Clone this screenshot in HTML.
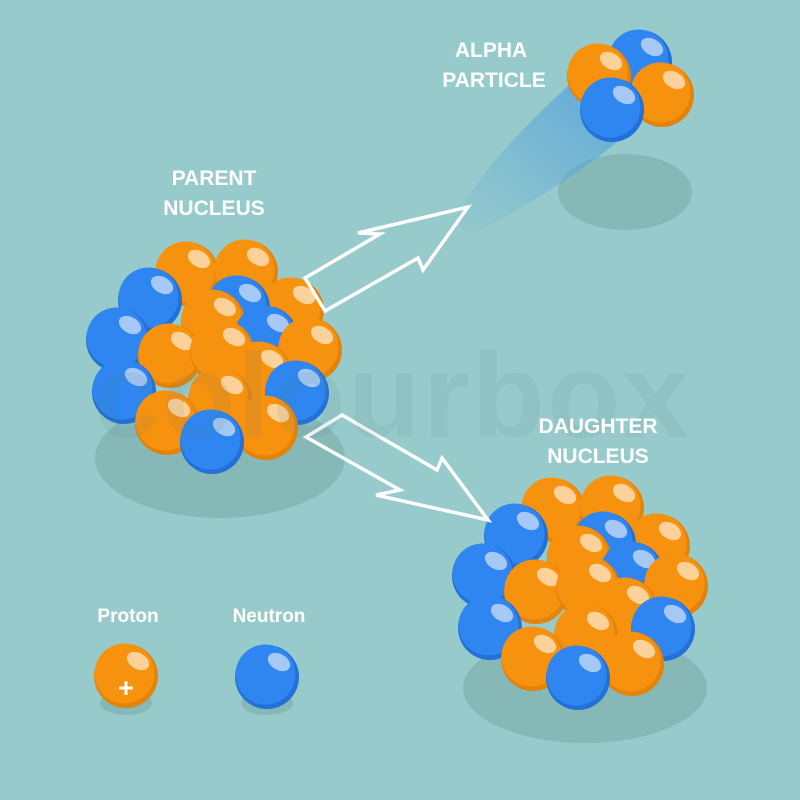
<!DOCTYPE html>
<html><head><meta charset="utf-8"><style>
html,body{margin:0;padding:0;background:#97cbcb;}
svg{display:block}
text{font-family:"Liberation Sans",sans-serif;font-weight:bold;fill:#fff}
</style></head><body>
<svg width="800" height="800" viewBox="0 0 800 800" xmlns="http://www.w3.org/2000/svg">
<defs>
<linearGradient id="trail" x1="0" y1="1" x2="1" y2="0">
<stop offset="0" stop-color="#5fa8dc" stop-opacity="0.05"/>
<stop offset="1" stop-color="#4a9be0" stop-opacity="0.75"/>
</linearGradient>
<g id="o">
<circle r="32" fill="#e4830a"/>
<circle cx="-1.5" cy="-2.5" r="30" fill="#f7920f"/>
<ellipse cx="12" cy="-15" rx="12" ry="8" transform="rotate(30 12 -15)" fill="#fdd19a"/>
</g>
<g id="b">
<circle r="32" fill="#2270d8"/>
<circle cx="-1.5" cy="-2.5" r="30" fill="#2f86f0"/>
<ellipse cx="12" cy="-15" rx="12" ry="8" transform="rotate(30 12 -15)" fill="#a5c8f5"/>
</g>
<g id="nuc">
<use href="#o" x="187" y="274"/>
<use href="#o" x="246" y="272"/>
<use href="#b" x="150" y="300"/>
<use href="#o" x="292" y="310"/>
<use href="#b" x="238" y="308"/>
<use href="#o" x="213" y="322"/>
<use href="#b" x="118" y="340"/>
<use href="#b" x="266" y="338"/>
<use href="#o" x="310" y="350"/>
<use href="#o" x="170" y="356"/>
<use href="#o" x="222" y="352"/>
<use href="#o" x="260" y="374"/>
<use href="#b" x="124" y="392"/>
<use href="#o" x="220" y="400"/>
<use href="#b" x="297" y="393"/>
<use href="#o" x="167" y="423"/>
<use href="#o" x="266" y="428"/>
<use href="#b" x="212" y="442"/>
</g>
</defs>

<ellipse cx="220" cy="458" rx="125" ry="60" fill="#86b8b8"/>
<ellipse cx="585" cy="688" rx="122" ry="55" fill="#86b8b8"/>
<ellipse cx="625" cy="192" rx="67" ry="38" fill="#86b8b8"/>
<ellipse cx="126" cy="703" rx="26" ry="12" fill="#86b8b8"/>
<ellipse cx="267" cy="703" rx="26" ry="12" fill="#86b8b8"/>

<path d="M456,222 C472,180 520,130 568,86 L626,134 C580,175 520,210 468,236 Z" fill="url(#trail)"/>

<use href="#nuc"/>
<use href="#nuc" x="366" y="236"/>

<use href="#b" x="640" y="62"/>
<use href="#o" x="599" y="76"/>
<use href="#o" x="662" y="95"/>
<use href="#b" x="612" y="110"/>

<polygon points="305,278 380,234 358,233 468,207 423,270 418,258 325,311" fill="none" stroke="#fff" stroke-width="3.5" stroke-linejoin="miter"/>
<polygon points="342,415 437,470 442,458 488,520 376,495 400,490 306,437" fill="none" stroke="#fff" stroke-width="3.5" stroke-linejoin="miter"/>

<text x="392" y="437" text-anchor="middle" font-size="120" style="fill:#5a7d86;opacity:0.1;letter-spacing:2px">colourbox</text>

<use href="#o" x="126" y="676"/>
<text x="126" y="697" text-anchor="middle" font-size="27">+</text>
<use href="#b" x="267" y="677"/>

<text x="491" y="57" text-anchor="middle" font-size="21">ALPHA</text>
<text x="494" y="87" text-anchor="middle" font-size="21">PARTICLE</text>
<text x="214" y="185" text-anchor="middle" font-size="21">PARENT</text>
<text x="214" y="215" text-anchor="middle" font-size="21">NUCLEUS</text>
<text x="598" y="433" text-anchor="middle" font-size="21">DAUGHTER</text>
<text x="598" y="463" text-anchor="middle" font-size="21">NUCLEUS</text>
<text x="128" y="622" text-anchor="middle" font-size="19">Proton</text>
<text x="269" y="622" text-anchor="middle" font-size="19">Neutron</text>
</svg>
</body></html>
